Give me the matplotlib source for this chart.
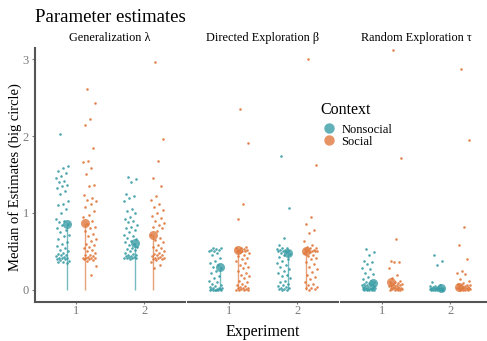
import numpy as np
import matplotlib.pyplot as plt
from matplotlib.lines import Line2D

plt.rcParams['font.family'] = ['Liberation Serif', 'DejaVu Serif']

params = ['Generalization λ', 'Directed Exploration β', 'Random Exploration τ']
experiments = [1, 2]
contexts = ['Nonsocial', 'Social']
colors = {'Nonsocial': '#3b9ea6', 'Social': '#e07a3f'}

# median per (parameter, experiment, context) -> big circle
medians = {
    ('Generalization λ', 1): [0.86, 0.87],
    ('Generalization λ', 2): [0.61, 0.72],
    ('Directed Exploration β', 1): [0.30, 0.52],
    ('Directed Exploration β', 2): [0.48, 0.51],
    ('Random Exploration τ', 1): [0.09, 0.10],
    ('Random Exploration τ', 2): [0.02, 0.04],
}

# individual estimates (small dots)
gen_e1_non = [2.03, 1.61, 1.58, 1.55, 1.52, 1.48, 1.45, 1.42, 1.40, 1.37, 1.35, 1.32, 1.28,
              1.25, 1.15, 1.12, 1.10, 1.05, 1.00, 0.92, 0.90, 0.88, 0.86, 0.84, 0.80, 0.78,
              0.75, 0.72, 0.70, 0.66, 0.62, 0.60, 0.57, 0.55, 0.52, 0.50, 0.48, 0.47, 0.46,
              0.45, 0.44, 0.43, 0.42, 0.42, 0.41, 0.40, 0.40, 0.39, 0.38, 0.37, 0.36, 0.35]
gen_e1_soc = [2.61, 2.43, 2.22, 2.14, 1.85, 1.68, 1.66, 1.59, 1.51, 1.37, 1.35, 1.24, 1.20,
              1.17, 1.15, 1.12, 1.08, 1.03, 0.98, 0.95, 0.90, 0.86, 0.82, 0.80, 0.76, 0.73,
              0.70, 0.66, 0.63, 0.60, 0.58, 0.56, 0.54, 0.52, 0.50, 0.48, 0.46, 0.45, 0.44,
              0.43, 0.42, 0.42, 0.41, 0.41, 0.40, 0.40, 0.39, 0.38, 0.31, 0.20]
gen_e2_non = [1.47, 1.44, 1.40, 1.25, 1.22, 1.20, 1.16, 1.05, 1.02, 1.00, 0.95, 0.92, 0.90,
              0.88, 0.85, 0.82, 0.80, 0.78, 0.75, 0.72, 0.70, 0.68, 0.66, 0.64, 0.62, 0.60,
              0.58, 0.56, 0.55, 0.53, 0.52, 0.50, 0.48, 0.47, 0.46, 0.45, 0.44, 0.44, 0.43,
              0.43, 0.42, 0.42, 0.41, 0.41, 0.40]
gen_e2_soc = [2.96, 1.96, 1.67, 1.45, 1.35, 1.22, 1.17, 1.12, 1.08, 1.04, 1.00, 0.96, 0.93,
              0.90, 0.87, 0.84, 0.82, 0.80, 0.76, 0.72, 0.68, 0.65, 0.62, 0.58, 0.56, 0.54,
              0.52, 0.50, 0.48, 0.47, 0.46, 0.45, 0.44, 0.43, 0.42, 0.42, 0.41, 0.40, 0.40,
              0.39, 0.36, 0.33, 0.28]
dir_e1_non = [0.55, 0.54, 0.53, 0.52, 0.52, 0.51, 0.50, 0.48, 0.45, 0.42, 0.38, 0.35, 0.32,
              0.30, 0.28, 0.25, 0.22, 0.18, 0.15, 0.12, 0.10, 0.08, 0.06, 0.05, 0.04, 0.03,
              0.02, 0.02, 0.01, 0.01, 0.01, 0.0, 0.0, 0.0, 0.0, 0.0, 0.0]
dir_e1_soc = [2.35, 1.91, 1.12, 0.92, 0.56, 0.55, 0.54, 0.53, 0.52, 0.52, 0.51, 0.50, 0.50,
              0.49, 0.48, 0.46, 0.44, 0.42, 0.40, 0.38, 0.35, 0.33, 0.30, 0.28, 0.25, 0.22,
              0.20, 0.18, 0.15, 0.12, 0.10, 0.08, 0.06, 0.05, 0.04, 0.03, 0.02, 0.02, 0.01,
              0.01, 0.0, 0.0, 0.0, 0.0]
dir_e2_non = [1.74, 1.06, 0.67, 0.58, 0.55, 0.54, 0.53, 0.52, 0.52, 0.51, 0.50, 0.50, 0.49,
              0.48, 0.47, 0.45, 0.43, 0.40, 0.38, 0.35, 0.32, 0.30, 0.27, 0.25, 0.22, 0.20,
              0.18, 0.15, 0.12, 0.10, 0.08, 0.06, 0.05, 0.04, 0.03, 0.02, 0.01, 0.01, 0.0, 0.0]
dir_e2_soc = [3.00, 1.62, 0.95, 0.86, 0.78, 0.74, 0.64, 0.58, 0.56, 0.55, 0.54, 0.53, 0.52,
              0.52, 0.51, 0.51, 0.50, 0.50, 0.49, 0.48, 0.46, 0.44, 0.42, 0.40, 0.37, 0.34,
              0.30, 0.27, 0.24, 0.20, 0.17, 0.14, 0.11, 0.08, 0.06, 0.04, 0.03, 0.02, 0.01, 0.0]
ran_e1_non = [0.53, 0.49, 0.45, 0.38, 0.36, 0.34, 0.29, 0.27, 0.22, 0.21, 0.17, 0.14, 0.12,
              0.11, 0.10, 0.09, 0.08, 0.08, 0.07, 0.06, 0.06, 0.05, 0.05, 0.04, 0.04, 0.03,
              0.03, 0.03, 0.02, 0.02, 0.02, 0.01, 0.01, 0.01, 0.01, 0.0, 0.0, 0.0, 0.0, 0.0]
ran_e1_soc = [3.12, 1.71, 0.66, 0.38, 0.37, 0.36, 0.29, 0.20, 0.15, 0.12, 0.11, 0.10, 0.09,
              0.08, 0.08, 0.07, 0.06, 0.06, 0.05, 0.05, 0.04, 0.04, 0.03, 0.03, 0.02, 0.02,
              0.02, 0.01, 0.01, 0.01, 0.0, 0.0, 0.0, 0.0]
ran_e2_non = [0.45, 0.38, 0.32, 0.11, 0.06, 0.05, 0.05, 0.04, 0.04, 0.03, 0.03, 0.03, 0.02,
              0.02, 0.02, 0.02, 0.01, 0.01, 0.01, 0.01, 0.01, 0.0, 0.0, 0.0, 0.0, 0.0, 0.0, 0.0]
ran_e2_soc = [2.87, 1.95, 0.82, 0.58, 0.40, 0.25, 0.22, 0.21, 0.14, 0.12, 0.09, 0.08, 0.07,
              0.06, 0.06, 0.05, 0.05, 0.04, 0.04, 0.03, 0.03, 0.03, 0.02, 0.02, 0.02, 0.01,
              0.01, 0.01, 0.0, 0.0, 0.0, 0.0]

points = {
    ('Generalization λ', 1): [gen_e1_non, gen_e1_soc],
    ('Generalization λ', 2): [gen_e2_non, gen_e2_soc],
    ('Directed Exploration β', 1): [dir_e1_non, dir_e1_soc],
    ('Directed Exploration β', 2): [dir_e2_non, dir_e2_soc],
    ('Random Exploration τ', 1): [ran_e1_non, ran_e1_soc],
    ('Random Exploration τ', 2): [ran_e2_non, ran_e2_soc],
}


def jitter(n, width):
    # spread points evenly-ish, golden ratio sequence (deterministic)
    k = np.arange(n)
    return ((k * 0.618034 + 0.3) % 1 - 0.5) * 2 * width


W, H = 487, 341
fig = plt.figure(figsize=(W / 100, H / 100), dpi=100)

axis_col = '#555555'
tick_col = '#7a7a7a'
lefts = [35, 188, 341]
pw = 150
top, bottom = 48, 302

for i, p in enumerate(params):
    ax = fig.add_axes([lefts[i] / W, 1 - bottom / H, pw / W, (bottom - top) / H])
    ax.set_xlim(0.4, 2.6)
    ax.set_ylim(-0.156, 3.143)
    for e in experiments:
        for j, c in enumerate(contexts):
            sgn = -1 if j == 0 else 1
            ys = np.array(points[(p, e)][j])
            xs = e + sgn * 0.2 + jitter(len(ys), 0.1)
            ax.scatter(xs, ys, s=3.5, color=colors[c], alpha=0.9, linewidths=0, zorder=2)
            m = medians[(p, e)][j]
            xm = e + sgn * 0.13
            ax.vlines(xm, 0, m, color=colors[c], lw=1, alpha=0.7, zorder=3)
            ax.scatter([xm], [m], s=42, color=colors[c], alpha=0.8, linewidths=0, zorder=4)
    for s in ['top', 'right']:
        ax.spines[s].set_visible(False)
    ax.spines['bottom'].set_color(axis_col)
    ax.spines['bottom'].set_linewidth(1.5)
    ax.set_xticks(experiments)
    ax.set_xticklabels([str(e) for e in experiments])
    ax.tick_params(axis='x', colors=tick_col, labelsize=9, length=1.5, width=0.8, pad=1)
    if i == 0:
        ax.spines['left'].set_color(axis_col)
        ax.spines['left'].set_linewidth(1.5)
        ax.set_yticks([0, 1, 2, 3])
        ax.tick_params(axis='y', colors=tick_col, labelsize=9, length=2.5, width=0.8, pad=2)
    else:
        ax.spines['left'].set_visible(False)
        ax.set_yticks([])
    ax.patch.set_alpha(0)
    fig.text((lefts[i] + pw / 2) / W, 1 - 38 / H, p, ha='center', va='center', fontsize=8.8)

fig.text(35 / W, 1 - 18 / H, 'Parameter estimates', ha='left', va='center', fontsize=13.5)
fig.text(15 / W, 1 - 177 / H, 'Median of Estimates (big circle)', rotation=90,
         ha='center', va='center', fontsize=10.5)
fig.text(263 / W, 1 - 332 / H, 'Experiment', ha='center', va='center', fontsize=11.5)

# legend
fig.text(320 / W, 1 - 110 / H, 'Context', ha='left', va='center', fontsize=11.5)
handles = [Line2D([], [], ls='', marker='o', ms=7.5, color=colors[c], alpha=0.8, mec='none')
           for c in contexts]
fig.legend(handles, contexts, loc='upper left', bbox_to_anchor=(314 / W, 1 - 115 / H),
           frameon=False, fontsize=9, handlelength=1.0, handletextpad=0.5,
           labelspacing=0.0, borderpad=0.2)

fig.savefig('out.png', dpi=100)
